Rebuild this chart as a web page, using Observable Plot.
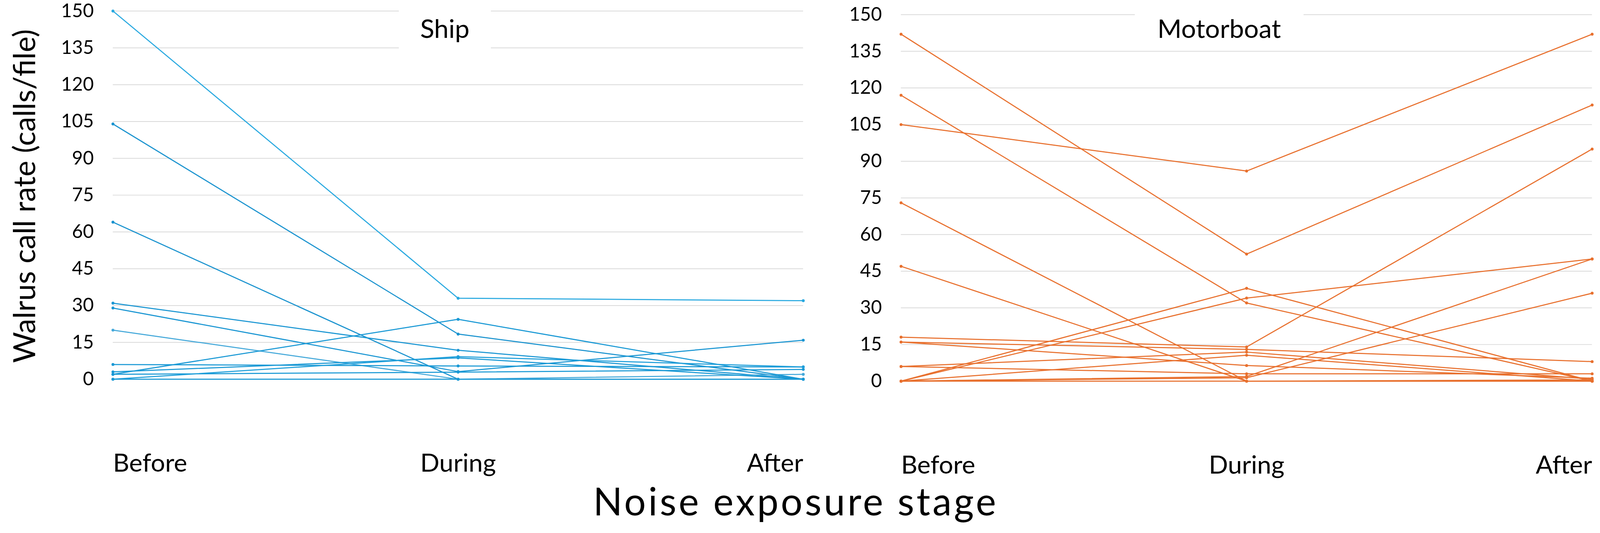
<!DOCTYPE html>
<html><head><meta charset="utf-8">
<script src="https://cdn.jsdelivr.net/npm/d3@7"></script>
<script src="https://cdn.jsdelivr.net/npm/@observablehq/plot@0.6"></script>
<style>
html,body{margin:0;padding:0;background:#fff;overflow:hidden;}
#wrap{position:absolute;left:0;top:0;width:4172px;height:1364px;overflow:hidden;font-family:Lato,sans-serif;background:#fff;transform-origin:0 0;}
.panel{position:absolute;top:0;}
.lbl{position:absolute;background:#fff;text-align:center;color:#000;white-space:nowrap;}
</style></head><body><div id="wrap"></div>
<script>
const stages = ["Before", "During", "After"];
const yTicks = [0, 15, 30, 45, 60, 75, 90, 105, 120, 135, 150];

const shipBefore = [150, 104, 64, 31, 29, 20, 6, 3, 2, 2, 0, 0];
const shipDuring = [33, 18.4, 0, 11.8, 3.1, 0, 5.4, 8.7, 24.4, 2.9, 9.2, 0];
const shipAfter  = [32, 0, 0, 0, 15.9, 2, 5, 0, 0, 4, 5, 0];
const shipColors = ["#29a9e0", "#1a93cf", "#1a93cf", "#1a96d3", "#1a96d3", "#45a9da", "#1a99d5", "#1a99d5", "#1a99d5", "#1a99d5", "#1f9fda", "#1a99d5"];

const boatBefore = [142, 117, 105, 73, 47, 18, 16, 16, 6, 6, 0, 0, 0, 0, 0, 0];
const boatDuring = [52, 32, 86, 0, 0, 14, 13, 6.4, 11.9, 3, 38, 34, 10.6, 1.9, 1.4, 0];
const boatAfter  = [113, 0, 142, 0.5, 0, 95, 8, 1.2, 0.8, 3, 0, 50, 0, 50, 36, 0];
const boatColor = "#e8702e";

function panel({before, during, after, colors, xr, yr, width, height}) {
  const rows = [];
  before.forEach((b, i) => {
    [b, during[i], after[i]].forEach((v, j) => rows.push({id: i, stage: stages[j], value: v, color: colors[i]}));
  });
  const cat = (s, anchor) => Plot.text([s], {x: d => d, frameAnchor: "bottom", dy: 220, textAnchor: anchor, lineAnchor: "middle", fontSize: 66, fill: "#000"});
  return Plot.plot({
    width, height,
    marginLeft: xr[0], marginRight: width - xr[1],
    marginTop: yr[1], marginBottom: height - yr[0],
    style: {fontFamily: "Lato, sans-serif", background: "white", overflow: "visible", maxWidth: "none"},
    x: {type: "point", domain: stages, range: xr, padding: 0, axis: null},
    y: {domain: [0, 150], range: yr, axis: null},
    marks: [
      Plot.gridY(yTicks, {stroke: "#d9d9d9", strokeOpacity: 1, strokeWidth: 2}),
      Plot.axisY(yTicks, {label: null, tickSize: 0, tickPadding: 50, fontSize: 49, fill: "#000"}),
      Plot.line(rows, {x: "stage", y: "value", z: "id", stroke: "color", strokeWidth: 2.8}),
      Plot.dot(rows, {x: "stage", y: "value", fill: "color", r: 3.8}),
      cat(stages[0], "start"),
      cat(stages[1], "middle"),
      cat(stages[2], "end")
    ]
  });
}

const wrap = document.getElementById("wrap");
const fit = () => {
  const s = Math.min(window.innerWidth / 4172, window.innerHeight / 1364);
  wrap.style.transform = `scale(${s})`;
};
fit();
window.addEventListener("resize", fit);

const left = panel({before: shipBefore, during: shipDuring, after: shipAfter, colors: shipColors,
  xr: [294, 2094], yr: [988, 28.3], width: 2200, height: 1260});
left.classList.add("panel");
left.style.left = "0px";
wrap.appendChild(left);

const right = panel({before: boatBefore, during: boatDuring, after: boatAfter, colors: boatBefore.map(() => boatColor),
  xr: [149, 1951], yr: [993, 37.7], width: 1972, height: 1260});
right.classList.add("panel");
right.style.left = "2200px";
wrap.appendChild(right);

function label(text, cx, cy, w, h, size) {
  const d = document.createElement("div");
  d.className = "lbl";
  d.textContent = text;
  d.style.left = (cx - w / 2) + "px";
  d.style.top = (cy - h / 2) + "px";
  d.style.width = w + "px";
  d.style.height = h + "px";
  d.style.lineHeight = h + "px";
  d.style.fontSize = size + "px";
  wrap.appendChild(d);
  return d;
}
label("Ship", 1160, 73, 240, 116, 68);
label("Motorboat", 3179, 73, 440, 116, 68);

const xt = label("Noise exposure stage", 2075, 1304, 1600, 120, 100);
xt.style.background = "transparent";
xt.style.letterSpacing = "6px";

const yt = document.createElement("div");
yt.className = "lbl";
yt.textContent = "Walrus call rate (calls/file)";
yt.style.background = "transparent";
yt.style.fontSize = "78px";
yt.style.width = "1000px";
yt.style.height = "100px";
yt.style.lineHeight = "100px";
yt.style.left = (62 - 500) + "px";
yt.style.top = (511 - 50) + "px";
yt.style.transform = "rotate(-90deg)";
wrap.appendChild(yt);
</script>
</body></html>
